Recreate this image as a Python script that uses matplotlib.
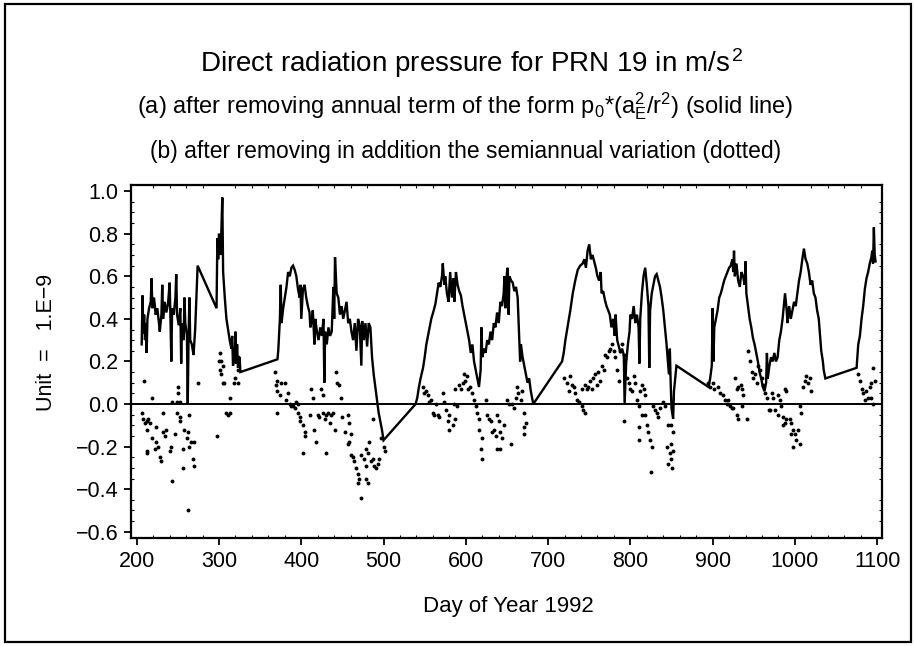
import matplotlib
matplotlib.use("Agg")
import matplotlib.pyplot as plt
from matplotlib.ticker import MultipleLocator, FuncFormatter
from matplotlib.patches import Rectangle

plt.rcParams['font.family'] = ['Liberation Sans', 'DejaVu Sans']
plt.rcParams['mathtext.fontset'] = 'custom'
plt.rcParams['mathtext.rm'] = 'Liberation Sans'
plt.rcParams['mathtext.it'] = 'Liberation Sans'

# solid line: (a) annual term removed
line_day = [206, 207, 208, 209, 210, 211, 212, 213, 215, 217, 218, 219, 221, 223, 225, 227, 228, 230, 231, 232,
            234, 236, 238, 240, 241, 242, 243, 245, 247, 248, 249, 251, 253, 254, 255, 257, 258, 259, 261, 262,
            263, 264, 265, 267, 269, 271, 274, 297, 298, 299, 300, 302, 304, 305, 307, 309, 311, 313, 315, 316,
            317, 319, 320, 321, 322, 323, 325, 326, 371, 372, 374, 375, 376, 378, 380, 382, 384, 386, 388, 390,
            392, 394, 396, 398, 399, 400, 402, 404, 406, 408, 410, 411, 413, 414, 416, 417, 419, 421, 423, 425,
            427, 428, 429, 431, 433, 435, 437, 439, 440, 441, 443, 445, 447, 449, 451, 453, 455, 457, 459, 461,
            463, 465, 467, 469, 471, 473, 474, 476, 478, 480, 482, 484, 486, 488, 490, 492, 494, 496, 498, 500,
            539, 541, 543, 545, 548, 550, 552, 555, 558, 561, 563, 565, 567, 569, 571, 572, 574, 575, 577, 579,
            581, 583, 585, 586, 588, 590, 592, 594, 596, 598, 600, 602, 604, 606, 608, 610, 612, 614, 616, 618,
            619, 620, 622, 624, 626, 628, 630, 632, 634, 636, 638, 640, 642, 644, 646, 647, 648, 650, 651, 652,
            653, 655, 657, 659, 661, 663, 665, 666, 667, 669, 671, 673, 675, 677, 679, 682, 717, 719, 721, 724,
            727, 730, 733, 736, 739, 742, 744, 746, 748, 750, 752, 754, 756, 758, 760, 762, 764, 765, 767, 769,
            771, 773, 775, 777, 779, 781, 782, 784, 786, 788, 790, 792, 793, 795, 797, 799, 800, 802, 804, 806,
            808, 810, 811, 812, 814, 816, 818, 820, 822, 823, 824, 826, 828, 830, 832, 834, 836, 838, 840, 842,
            844, 846, 847, 848, 849, 850, 852, 853, 856, 895, 897, 899, 900, 901, 902, 904, 906, 908, 910, 912,
            914, 916, 918, 920, 922, 924, 925, 926, 927, 929, 931, 933, 935, 937, 939, 940, 941, 943, 945, 947,
            949, 951, 953, 955, 957, 959, 961, 963, 965, 966, 967, 969, 971, 973, 975, 977, 979, 981, 983, 985,
            987, 988, 990, 991, 993, 995, 997, 999, 1001, 1003, 1005, 1007, 1009, 1011, 1013, 1015, 1017, 1019, 1021, 1023,
            1025, 1027, 1029, 1031, 1032, 1034, 1035, 1037, 1075, 1077, 1079, 1081, 1083, 1085, 1087, 1089, 1091, 1093,
            1094, 1095, 1096, 1097, 1098]
line_val = [0.28, 0.51, 0.33, 0.42, 0.30, 0.38, 0.24, 0.40, 0.45, 0.48, 0.59, 0.45, 0.50, 0.42, 0.45, 0.38, 0.34, 0.42, 0.56, 0.40,
            0.48, 0.43, 0.47, 0.57, 0.40, 0.20, 0.45, 0.42, 0.50, 0.61, 0.42, 0.37, 0.45, 0.19, 0.38, 0.30, 0.50, 0.38, 0.32, 0.00,
            0.32, 0.50, 0.30, 0.28, 0.23, 0.35, 0.65, 0.45, 0.78, 0.68, 0.80, 0.70, 0.97, 0.62, 0.50, 0.40, 0.35, 0.30, 0.26, 0.32,
            0.18, 0.22, 0.34, 0.19, 0.28, 0.17, 0.22, 0.15, 0.21, 0.25, 0.40, 0.56, 0.38, 0.45, 0.50, 0.55, 0.62, 0.60, 0.64, 0.65,
            0.63, 0.60, 0.54, 0.50, 0.56, 0.40, 0.54, 0.56, 0.50, 0.46, 0.43, 0.36, 0.40, 0.44, 0.28, 0.40, 0.34, 0.30, 0.36, 0.32,
            0.40, 0.10, 0.34, 0.28, 0.36, 0.32, 0.34, 0.55, 0.40, 0.69, 0.52, 0.50, 0.42, 0.46, 0.40, 0.44, 0.48, 0.38, 0.40, 0.34,
            0.30, 0.38, 0.25, 0.40, 0.37, 0.18, 0.39, 0.30, 0.38, 0.27, 0.38, 0.36, 0.22, 0.14, 0.08, 0.02, -0.04, -0.08, -0.12, -0.17,
            0.00, 0.03, 0.08, 0.12, 0.17, 0.22, 0.28, 0.34, 0.40, 0.44, 0.47, 0.52, 0.57, 0.55, 0.60, 0.66, 0.56, 0.60, 0.52, 0.48,
            0.62, 0.50, 0.59, 0.48, 0.62, 0.56, 0.53, 0.51, 0.46, 0.42, 0.38, 0.34, 0.30, 0.24, 0.28, 0.20, 0.16, 0.12, 0.08, 0.16,
            0.36, 0.22, 0.26, 0.24, 0.30, 0.28, 0.34, 0.30, 0.38, 0.36, 0.43, 0.38, 0.48, 0.46, 0.52, 0.60, 0.45, 0.62, 0.64, 0.42,
            0.60, 0.58, 0.57, 0.53, 0.55, 0.50, 0.30, 0.20, 0.28, 0.22, 0.18, 0.14, 0.10, 0.12, 0.06, 0.00, 0.20, 0.24, 0.30, 0.37,
            0.44, 0.52, 0.58, 0.63, 0.65, 0.66, 0.68, 0.64, 0.72, 0.75, 0.68, 0.70, 0.67, 0.64, 0.60, 0.58, 0.62, 0.52, 0.53, 0.49,
            0.46, 0.44, 0.42, 0.36, 0.40, 0.32, 0.42, 0.30, 0.27, 0.24, 0.26, 0.23, 0.00, 0.20, 0.28, 0.34, 0.42, 0.40, 0.46, 0.38,
            0.42, 0.36, 0.19, 0.40, 0.52, 0.60, 0.64, 0.56, 0.46, 0.17, 0.44, 0.52, 0.56, 0.60, 0.61, 0.58, 0.55, 0.50, 0.44, 0.36,
            0.28, 0.18, 0.14, 0.26, 0.10, -0.02, -0.07, 0.06, 0.18, 0.08, 0.12, 0.18, 0.45, 0.20, 0.36, 0.40, 0.44, 0.50, 0.52, 0.55,
            0.58, 0.60, 0.62, 0.64, 0.65, 0.68, 0.62, 0.72, 0.60, 0.66, 0.58, 0.55, 0.62, 0.60, 0.56, 0.67, 0.52, 0.46, 0.40, 0.36,
            0.31, 0.28, 0.24, 0.20, 0.15, 0.12, 0.08, 0.06, 0.10, 0.24, 0.12, 0.18, 0.22, 0.20, 0.24, 0.20, 0.22, 0.30, 0.34, 0.40,
            0.48, 0.52, 0.44, 0.38, 0.46, 0.40, 0.44, 0.48, 0.46, 0.52, 0.58, 0.62, 0.68, 0.73, 0.68, 0.66, 0.62, 0.56, 0.58, 0.52,
            0.50, 0.44, 0.40, 0.30, 0.25, 0.20, 0.16, 0.12, 0.17, 0.28, 0.32, 0.40, 0.46, 0.54, 0.59, 0.62, 0.66, 0.69,
            0.72, 0.66, 0.83, 0.70, 0.67]

# dots: (b) semiannual variation removed as well
dot_day = [209, 219, 206, 207, 210, 213, 214, 216, 213, 223, 219, 224, 226, 212, 213, 222, 228, 230, 232, 234,
           236, 232, 240, 242, 243, 246, 249, 250, 250, 252, 253, 252, 256, 256, 258, 261, 262, 264, 264, 266,
           270, 268, 270, 262, 243, 249, 274, 297, 301, 300, 302, 305, 301, 302, 305, 306, 309, 311, 313, 313,
           318, 320, 323, 323, 323, 368, 370, 369, 371, 374, 375, 380, 371, 381, 384, 386, 387, 390, 392, 393,
           396, 396, 398, 399, 402, 404, 405, 402, 410, 412, 414, 416, 418, 420, 422, 424, 426, 426, 429, 430,
           432, 435, 436, 438, 441, 430, 442, 444, 446, 448, 450, 453, 457, 457, 458, 460, 458, 460, 463, 464,
           466, 469, 470, 469, 472, 472, 476, 479, 481, 479, 479, 481, 482, 485, 487, 488, 491, 493, 494, 487,
           497, 500, 502, 548, 549, 552, 554, 555, 558, 560, 561, 564, 566, 567, 572, 574, 576, 579, 578, 579,
           584, 587, 586, 587, 589, 592, 594, 596, 598, 599, 601, 603, 605, 607, 610, 612, 613, 616, 616, 620,
           618, 620, 624, 626, 628, 631, 632, 634, 637, 638, 640, 642, 644, 638, 642, 646, 650, 652, 655, 656,
           658, 661, 662, 664, 667, 668, 671, 671, 673, 671, 719, 723, 727, 729, 725, 731, 733, 735, 737, 741,
           743, 745, 741, 745, 747, 749, 751, 753, 755, 757, 759, 761, 763, 766, 768, 769, 772, 774, 775, 778,
           780, 781, 784, 786, 787, 790, 792, 793, 792, 796, 798, 800, 802, 804, 806, 808, 810, 812, 814, 816,
           818, 810, 810, 814, 818, 820, 822, 824, 826, 825, 828, 830, 832, 834, 836, 840, 842, 846, 844, 848,
           846, 850, 852, 850, 852, 850, 851, 894, 897, 900, 902, 906, 909, 913, 915, 918, 919, 921, 924, 925,
           927, 930, 931, 934, 936, 937, 936, 930, 931, 942, 943, 946, 948, 949, 952, 954, 955, 958, 960, 961,
           964, 966, 968, 970, 972, 973, 976, 980, 980, 982, 983, 986, 988, 986, 989, 988, 989, 994, 995, 998,
           995, 1000, 1001, 1004, 998, 1006, 1006, 1008, 1010, 1012, 1013, 1016, 1018, 1020, 1077, 1079, 1081, 1083, 1085, 1087,
           1089, 1091, 1093, 1095, 1097, 1093, 1095]
dot_val = [0.11, 0.03, -0.04, -0.07, -0.09, -0.08, -0.07, -0.09, -0.12, -0.11, -0.16, -0.18, -0.20, -0.22, -0.23, -0.21, -0.25, -0.27, -0.13, -0.15,
           -0.12, -0.04, -0.22, -0.20, -0.36, -0.14, -0.04, 0.08, 0.05, -0.08, -0.06, 0.01, -0.21, -0.30, -0.12, -0.16, -0.13, -0.05, -0.20, -0.18,
           -0.18, -0.26, -0.29, -0.50, 0.01, 0.01, 0.10, -0.15, 0.24, 0.20, 0.20, 0.18, 0.16, 0.14, 0.10, 0.10, -0.04, -0.05, -0.04, 0.03,
           0.10, 0.12, 0.22, 0.16, 0.10, 0.15, 0.11, 0.09, 0.06, 0.04, 0.10, 0.10, -0.04, 0.02, 0.05, 0.00, -0.01, -0.01, -0.02, 0.01,
           0.00, -0.04, -0.06, -0.08, -0.10, -0.15, -0.13, -0.23, -0.05, 0.07, 0.03, -0.12, -0.18, -0.05, -0.06, 0.07, 0.04, -0.04, -0.07, -0.05,
           -0.04, -0.09, -0.05, -0.04, -0.12, -0.23, 0.15, 0.10, 0.09, 0.03, -0.06, -0.13, -0.19, -0.05, -0.09, -0.14, -0.18, -0.24, -0.25, -0.27,
           -0.30, -0.33, -0.35, -0.37, -0.44, -0.24, -0.26, -0.21, -0.23, -0.29, -0.35, -0.37, -0.18, -0.27, -0.26, -0.29, -0.30, -0.28, -0.26, -0.07,
           -0.16, -0.20, -0.22, 0.08, 0.05, 0.06, 0.04, 0.01, 0.02, -0.04, -0.05, 0.00, -0.05, -0.06, 0.05, 0.01, -0.03, -0.05, -0.08, -0.12,
           -0.10, 0.07, 0.00, -0.07, -0.01, 0.09, 0.07, 0.10, 0.14, 0.11, 0.13, 0.07, 0.08, 0.05, 0.02, -0.01, -0.04, -0.07, -0.12, -0.16,
           -0.21, -0.26, 0.02, -0.05, -0.07, -0.08, -0.13, -0.12, -0.15, -0.05, -0.08, -0.13, -0.16, -0.21, -0.21, -0.10, 0.02, 0.00, -0.19, 0.00,
           -0.02, 0.03, 0.08, 0.05, 0.02, 0.06, -0.04, -0.11, -0.09, -0.14, 0.12, 0.10, 0.13, 0.09, 0.06, 0.08, 0.05, 0.02, 0.01, -0.01,
           -0.03, -0.04, 0.07, 0.09, 0.07, 0.08, 0.11, 0.07, 0.12, 0.14, 0.09, 0.15, 0.11, 0.18, 0.16, 0.23, 0.22, 0.25, 0.26, 0.28,
           0.25, 0.22, 0.16, 0.11, 0.25, 0.28, 0.23, 0.21, -0.08, 0.12, 0.10, 0.07, 0.06, 0.13, 0.10, 0.02, -0.01, 0.06, 0.09, 0.07,
           0.04, -0.11, -0.17, -0.05, -0.05, -0.10, -0.13, -0.17, -0.20, -0.32, -0.01, -0.03, -0.04, -0.06, -0.02, 0.01, -0.01, -0.10, -0.20, -0.23,
           -0.28, -0.10, -0.13, -0.19, -0.22, -0.26, -0.30, 0.10, 0.08, 0.10, 0.07, 0.08, 0.05, 0.04, 0.02, 0.00, 0.02, -0.01, -0.02, -0.02,
           0.12, 0.07, 0.08, 0.09, 0.07, 0.04, -0.01, -0.05, -0.07, -0.07, 0.25, 0.20, 0.15, 0.12, 0.14, 0.10, 0.18, 0.16, 0.12, 0.09,
           0.05, 0.03, -0.03, -0.03, 0.05, 0.03, -0.03, -0.05, 0.04, 0.02, -0.01, -0.06, -0.09, -0.10, -0.07, 0.07, 0.06, -0.07, -0.09, -0.12,
           -0.14, -0.14, -0.17, -0.12, -0.20, -0.19, -0.01, -0.04, 0.08, 0.11, 0.13, 0.10, 0.12, 0.06, 0.14, 0.11, 0.07, 0.05, 0.02, 0.06,
           0.03, 0.08, 0.03, 0.00, 0.11, 0.10, 0.17]

xticks = [200, 300, 400, 500, 600, 700, 800, 900, 1000, 1100]

fig = plt.figure(figsize=(9.16, 6.46), dpi=100)
ax = fig.add_axes([0.143, 0.167, 0.820, 0.547])

ax.plot(line_day, line_val, color='black', lw=1.7, solid_joinstyle='miter')
ax.plot(dot_day, dot_val, 'o', color='black', ms=2.8, mec='none')
ax.axhline(0.0, color='black', lw=1.4)

ax.set_xlim(193, 1106)
ax.set_ylim(-0.63, 1.03)
ax.set_xticks(xticks)
ax.yaxis.set_major_locator(MultipleLocator(0.2))
ax.yaxis.set_major_formatter(FuncFormatter(lambda v, p: ('%.1f' % v).replace('-', '\u2212')))
ax.xaxis.set_minor_locator(MultipleLocator(20))
ax.yaxis.set_minor_locator(MultipleLocator(0.05))
ax.tick_params(which='major', direction='out', length=5, width=1.3, labelsize=15.5, pad=4)
ax.tick_params(which='minor', direction='in', length=2, width=0.8, top=True, right=True)
for s in ax.spines.values():
    s.set_linewidth(1.6)

ax.set_xlabel('Day of Year 1992', fontsize=16)
ax.xaxis.set_label_coords(0.502, -0.165)
ax.set_ylabel('Unit  =   1.E\u22129', fontsize=15.5)
ax.yaxis.set_label_coords(-0.098, 0.555)

fig.text(0.515, 0.903, r'Direct radiation pressure for PRN 19 in m/s$^{\,2}$', ha='center', va='center', fontsize=20)
fig.text(0.508, 0.836, r'(a) after removing annual term of the form p$_0$*(a$^2_E$/r$^2$) (solid line)',
         ha='center', va='center', fontsize=17)
fig.text(0.508, 0.765, '(b) after removing in addition the semiannual variation (dotted)',
         ha='center', va='center', fontsize=16.5)

fig.patches.append(Rectangle((0.005, 0.006), 0.99, 0.988, transform=fig.transFigure,
                             fill=False, edgecolor='black', lw=1.6))

fig.savefig('out.png', dpi=100)
